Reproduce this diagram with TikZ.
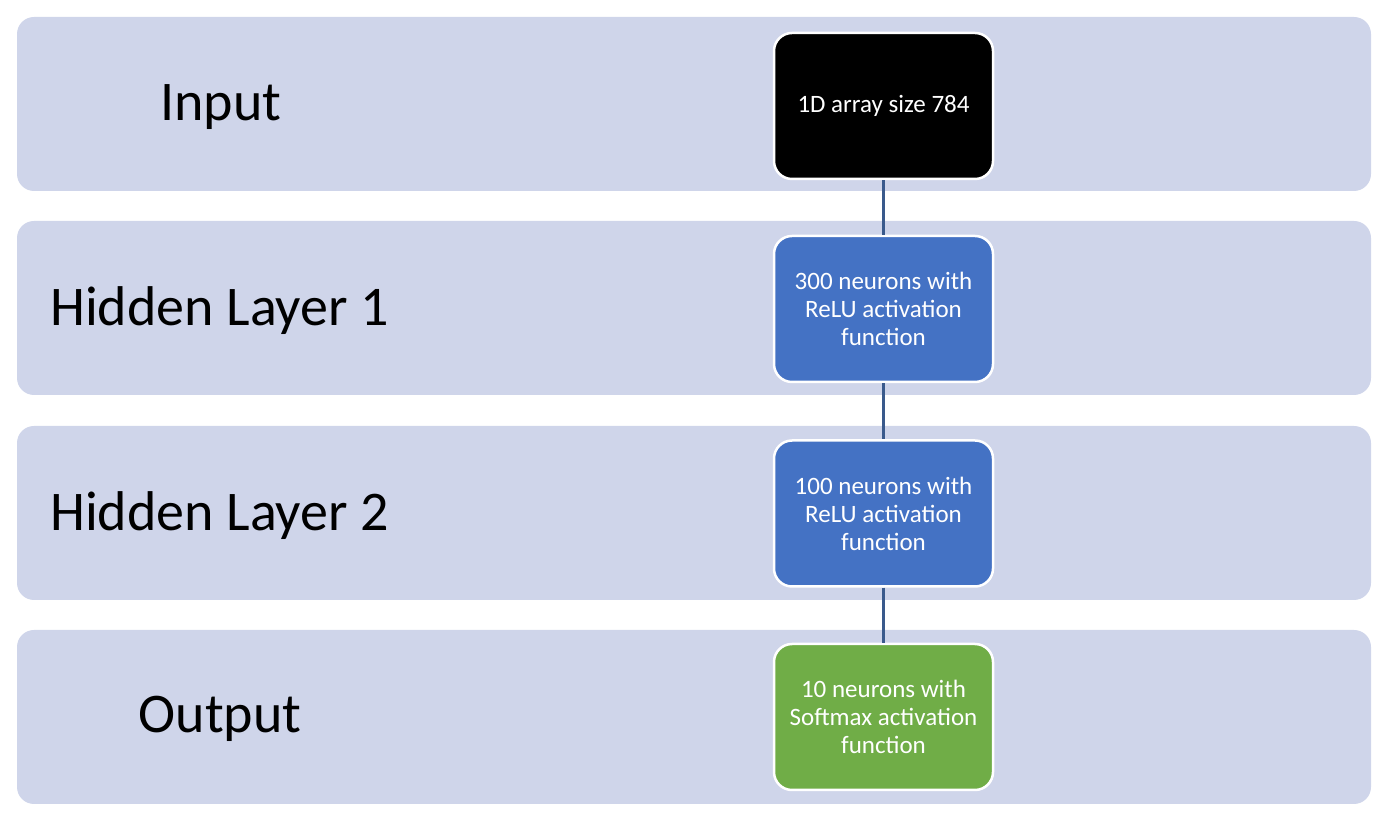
\documentclass[tikz,border=0pt]{standalone}
\usepackage{fontspec}
\setmainfont{Carlito}

\definecolor{bandgray}{HTML}{CFD5EA}
\definecolor{reluBlue}{HTML}{4472C4}
\definecolor{softGreen}{HTML}{70AD47}
\definecolor{linkBlue}{HTML}{3A5A8C}

\tikzset{
  band/.style={fill=bandgray, rounded corners=17pt},
  layer/.style={draw=white, line width=2.5pt, rounded corners=18pt,
    minimum width=219pt, minimum height=146pt, text=white, align=center,
    font=\fontsize{25}{28}\selectfont},
  caption/.style={inner sep=0pt, font=\fontsize{56}{60}\selectfont},
  link/.style={draw=linkBlue, line width=2.5pt}
}

\begin{document}
\begin{tikzpicture}[x=1pt, y=1pt]
\useasboundingbox (0,0) rectangle (1400,840);

% Bands
\fill[band] (17,649) rectangle (1371,823);
\fill[band] (17,445) rectangle (1371,619);
\fill[band] (17,240) rectangle (1371,414);
\fill[band] (17,36) rectangle (1371,210);

% Layer names
\node[caption] (tin) at (221,733) {Input};
\node[caption, anchor=west] (th1) at (50,529) {Hidden Layer 1};
\node[caption, anchor=west] (th2) at (50,324) {Hidden Layer 2};
\node[caption] (tout) at (220,121) {Output};

% Layers
\node[layer, fill=black] (in) at (883.5,734) {1D array size 784};
\node[layer, fill=reluBlue] (h1) at (883.5,531) {300 neurons with\\ReLU activation\\function};
\node[layer, fill=reluBlue] (h2) at (883.5,326.5) {100 neurons with\\ReLU activation\\function};
\node[layer, fill=softGreen] (out) at (883.5,123) {10 neurons with\\Softmax activation\\function};

% Links
\draw[link] (in.south) -- (h1.north);
\draw[link] (h1.south) -- (h2.north);
\draw[link] (h2.south) -- (out.north);
\end{tikzpicture}
\end{document}
